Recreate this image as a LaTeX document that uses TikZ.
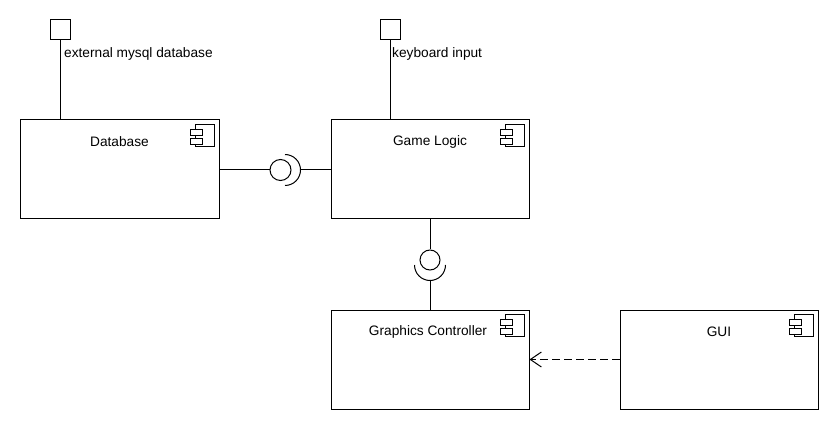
\documentclass[tikz,border=0pt]{standalone}
\usepackage{fontspec}
\setmainfont{Liberation Sans}
\usetikzlibrary{arrows.meta}
\tikzset{
  comp/.style={draw, line width=1pt, minimum width=198pt, minimum height=99pt, inner sep=0pt},
  port/.style={draw, line width=1pt, minimum size=20pt, inner sep=0pt},
  ball/.style={draw, circle, line width=1pt, minimum size=21pt, inner sep=0pt},
  wire/.style={line width=1pt},
  lbl/.style={font=\fontsize{13.7}{16}\selectfont, inner sep=0pt},
  compicon/.pic={
    \draw[line width=1pt] (-24,5) rectangle (-5,27);
    \draw[line width=1pt, fill=white] (-29,10) rectangle (-17,16);
    \draw[line width=1pt, fill=white] (-29,19) rectangle (-17,25);
  }
}
\begin{document}
\begin{tikzpicture}[x=1pt,y=-1pt]
\useasboundingbox[fill=white] (0,0) rectangle (840,430);
% components
\node[comp, minimum width=199pt] (db) at (119.5,169.5) {};
\node[comp] (gl) at (430,169.5) {};
\node[comp] (gc) at (430,359.5) {};
\node[comp] (gui) at (719,359.5) {};
\foreach \n in {db,gl,gc,gui} { \pic at (\n.north east) {compicon}; }
\node[lbl] (dbt) at ([yshift=-22.5pt]db.north) {Database};
\node[lbl] (glt) at ([yshift=-22.5pt]gl.north) {Game Logic};
\node[lbl, xshift=-2pt] (gct) at ([yshift=-22.5pt]gc.north) {Graphics Controller};
\node[lbl] (guit) at ([yshift=-22.5pt]gui.north) {GUI};
% ports
\node[port] (p1) at (60.5,30) {};
\node[port] (p2) at (390,30) {};
\draw[wire] (p1.south) -- (p1.south |- db.north);
\draw[wire] (p2.south) -- (p2.south |- gl.north);
\node[lbl, anchor=west] (p1t) at (64,53.5) {external mysql database};
\node[lbl, anchor=west] (p2t) at (392,53.5) {keyboard input};
% ball and socket 1
\node[ball] (b1) at (280.5,170) {};
\coordinate (s1) at (300.5,170);
\draw[wire] (285,154.5) arc[start angle=-90, end angle=90, radius=15.5];
\draw[wire] (db.east |- b1) -- (b1.west);
\draw[wire] (s1) -- (gl.west |- s1);
% ball and socket 2
\node[ball, minimum size=20pt] (b2) at (430,260) {};
\coordinate (s2) at (430,280.5);
\draw[wire] (414.5,265) arc[start angle=180, end angle=0, radius=15.5];
\draw[wire] (gl.south) -- (b2.north);
\draw[wire] (s2) -- (gc.north);
% dependency
\draw[wire, dash pattern=on 8pt off 4pt, -{Straight Barb[length=11pt, width=15pt, line width=1pt]}] (gui.west) -- (gc.east);
\end{tikzpicture}
\end{document}
